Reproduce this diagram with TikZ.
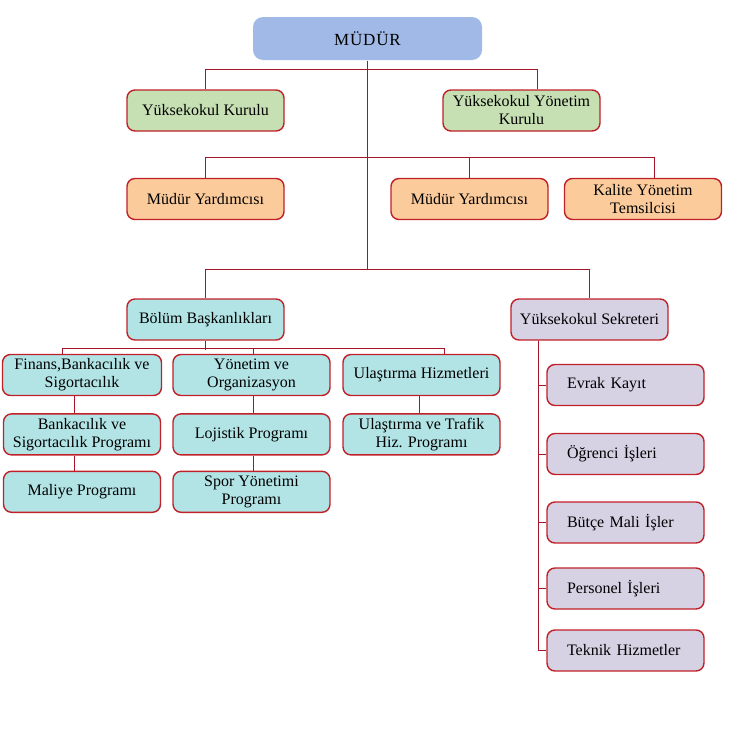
\documentclass[tikz,border=0pt]{standalone}
\usepackage{fontspec}
\setmainfont{Liberation Serif}
\usetikzlibrary{positioning}
\definecolor{kenar}{RGB}{192,32,40}
\definecolor{hatrengi}{RGB}{165,20,40}
\definecolor{mavi}{RGB}{160,185,230}
\definecolor{yesil}{RGB}{198,224,180}
\definecolor{turuncu}{RGB}{251,203,156}
\definecolor{camgobegi}{RGB}{178,228,230}
\definecolor{lila}{RGB}{214,210,228}

\tikzset{kutu/.style = {draw=kenar, line width=1.4pt, rounded corners=8pt, fill=#1,
                        minimum width=157pt, minimum height=41pt, inner xsep=2pt,
                        align=center, font=\fontsize{16}{18}\selectfont},
         kutu/.default=camgobegi,
         birim/.style = {kutu=lila, text width=117pt, inner xsep=20pt, align=left},
         baglanti/.style = {draw=hatrengi, line width=1pt}
        }

\begin{document}
\begin{tikzpicture}[x=1pt, y=-1pt]
  \useasboundingbox (0,0) rectangle (750,750);

  \node[kutu=mavi, draw=none, minimum width=229pt, minimum height=43pt, rounded corners=10pt,
        font=\fontsize{17}{18}\selectfont\addfontfeature{LetterSpace=5}] (mudur) at (367.5,38.5) {MÜDÜR};

  \node[kutu=yesil] (ykurul) at (205.5,110.5) {Yüksekokul Kurulu};
  \node[kutu=yesil] (yyonetim) at (521.5,110.5) {Yüksekokul Yönetim\\Kurulu};

  \node[kutu=turuncu] (yard1) at (205.5,199) {Müdür Yardımcısı};
  \node[kutu=turuncu] (yard2) at (469.5,199) {Müdür Yardımcısı};
  \node[kutu=turuncu] (kalite) at (643,199) {Kalite Yönetim\\Temsilcisi};

  \node[kutu] (bolum) at (205.5,319.5) {Bölüm Başkanlıkları};
  \node[kutu=lila] (sekr) at (589.5,319.5) {Yüksekokul Sekreteri};

  \node[kutu, minimum width=159pt] (finans) at (82,375) {Finans,Bankacılık ve\\Sigortacılık};
  \node[kutu, below=17pt of finans] (banka) {Bankacılık ve\\Sigortacılık Programı};
  \node[kutu, below=15pt of banka] (maliye) {Maliye Programı};

  \node[kutu] (yon) at (251.5,375) {Yönetim ve\\Organizasyon};
  \node[kutu, below=17pt of yon] (lojistik) {Lojistik Programı};
  \node[kutu, below=15pt of lojistik] (spor) {Spor Yönetimi\\Programı};

  \node[kutu] (ulas) at (421.5,375) {Ulaştırma Hizmetleri};
  \node[kutu, below=17pt of ulas] (trafik) {Ulaştırma ve Trafik\\Hiz. Programı};

  \node[birim] (evrak) at (625.5,385) {Evrak Kayıt};
  \node[birim] (ogrenci) at (625.5,454) {Öğrenci İşleri};
  \node[birim] (butce) at (625.5,522.5) {Bütçe Mali İşler};
  \node[birim] (personel) at (625.5,588.5) {Personel İşleri};
  \node[birim] (teknik) at (625.5,650.5) {Teknik Hizmetler};

  \coordinate (bus3) at (mudur.south |- 0,270);
  \draw[baglanti] (mudur.south) -- (bus3);
  \draw[baglanti] (ykurul.north) -- ++(0,-20) -| ([xshift=15.5pt]yyonetim.north);
  \draw[baglanti] (yard1.north) -- ++(0,-20) -| ([xshift=11pt]kalite.north);
  \draw[baglanti] (yard2.north) -- ++(0,-20);
  \draw[baglanti] (bolum.north) -- ++(0,-29) -| (sekr.north);

  \draw[baglanti] (bolum.south) -- ++(0,9);
  \draw[baglanti] ([xshift=-20pt]finans.north) -- ++(0,-5) -| ([xshift=22.5pt]ulas.north);
  \draw[baglanti] ([xshift=1.5pt]yon.north) -- ++(0,-5);
  \draw[baglanti] ([xshift=-8pt]finans.south) -- ([xshift=-8pt]banka.north);
  \draw[baglanti] ([xshift=-8pt]banka.south) -- ([xshift=-8pt]maliye.north);
  \draw[baglanti] ([xshift=1.5pt]yon.south) -- ([xshift=1.5pt]lojistik.north);
  \draw[baglanti] ([xshift=1.5pt]lojistik.south) -- ([xshift=1.5pt]spor.north);
  \draw[baglanti] ([xshift=-2.5pt]ulas.south) -- ([xshift=-2.5pt]trafik.north);

  \coordinate (govde) at ([xshift=-51.5pt]sekr.south);
  \foreach \b in {evrak,ogrenci,butce,personel,teknik}
    \draw[baglanti] (govde) |- (\b.west);
\end{tikzpicture}
\end{document}
